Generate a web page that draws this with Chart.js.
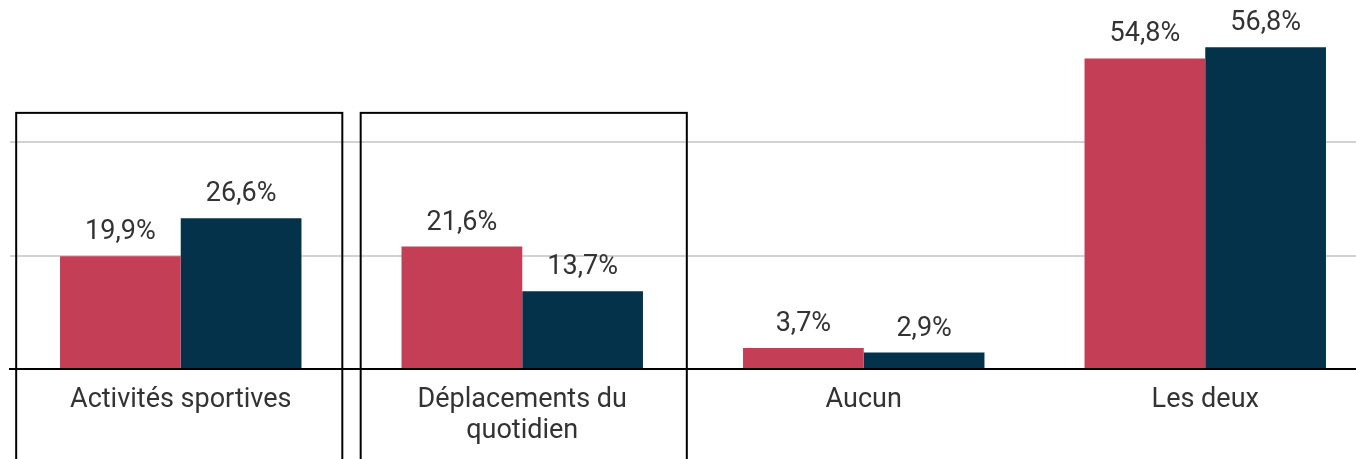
<!DOCTYPE html>
<html><head><meta charset="utf-8">
<script src="https://cdn.jsdelivr.net/npm/chart.js@4"></script>
<style>
html,body{margin:0;padding:0;background:#fff;overflow:hidden;}
#wrap{width:1376px;height:459px;position:relative;}
</style></head>
<body><div id="wrap"><canvas id="c"></canvas></div>
<script>
const categories = [["Activités sportives"], ["Déplacements du", "quotidien"], ["Aucun"], ["Les deux"]];
const seriesA = [19.9, 21.6, 3.7, 54.8];
const seriesB = [26.6, 13.7, 2.9, 56.8];
const seriesNames = ["Série 1", "Série 2"];
const highlighted = [0, 1];
const highlightTop = 45.2;

const fmt = v => v.toFixed(1).replace('.', ',') + '%';

const labelPlugin = {
  id: 'labels',
  afterDatasetsDraw(chart) {
    const ctx = chart.ctx;
    ctx.save();
    ctx.font = '27px Roboto';
    ctx.fillStyle = '#333333';
    ctx.textAlign = 'center';
    ctx.textBaseline = 'alphabetic';
    chart.data.datasets.forEach((ds, di) => {
      const meta = chart.getDatasetMeta(di);
      meta.data.forEach((bar, i) => {
        ctx.fillText(fmt(ds.data[i]), bar.x, bar.y - 17);
      });
    });
    ctx.restore();
  }
};

const boxPlugin = {
  id: 'boxes',
  afterDraw(chart) {
    const ctx = chart.ctx;
    const xs = chart.scales.x, ys = chart.scales.y;
    const w = (xs.getPixelForValue(1) - xs.getPixelForValue(0)) * 0.955;
    const top = ys.getPixelForValue(highlightTop);
    ctx.save();
    ctx.strokeStyle = '#000';
    ctx.lineWidth = 2;
    highlighted.forEach(i => {
      const cx = xs.getPixelForValue(i) + (i - 0.5) * 3;
      ctx.strokeRect(cx - w / 2, top, w, chart.height + 20 - top);
    });
    ctx.restore();
  }
};

new Chart(document.getElementById('c'), {
  type: 'bar',
  data: {
    labels: categories,
    datasets: [
      { label: seriesNames[0], data: seriesA, backgroundColor: '#c43f55' },
      { label: seriesNames[1], data: seriesB, backgroundColor: '#03324a' }
    ]
  },
  options: {
    responsive: true,
    maintainAspectRatio: false,
    animation: false,
    layout: { padding: { left: 10, right: 0, top: 29, bottom: 0 } },
    datasets: { bar: { categoryPercentage: 0.707, barPercentage: 1.0 } },
    plugins: { legend: { display: false }, tooltip: { enabled: false } },
    scales: {
      x: {
        grid: { display: false, drawTicks: false },
        border: { display: true, color: '#000', width: 2 },
        ticks: { color: '#333333', font: { family: 'Roboto', size: 27, lineHeight: 1.15 }, padding: 16, maxRotation: 0, autoSkip: false },
        afterFit(s) { s.height = 90; }
      },
      y: {
        min: 0, max: 60,
        ticks: { display: false, stepSize: 20 },
        border: { display: false },
        grid: {
          drawTicks: false,
          lineWidth: 2,
          color: c => (c.tick && (c.tick.value === 20 || c.tick.value === 40)) ? '#d2d2d2' : 'rgba(0,0,0,0)'
        },
        afterFit(s) { s.width = 0; }
      }
    }
  },
  plugins: [labelPlugin, boxPlugin]
});
</script>
</body></html>
